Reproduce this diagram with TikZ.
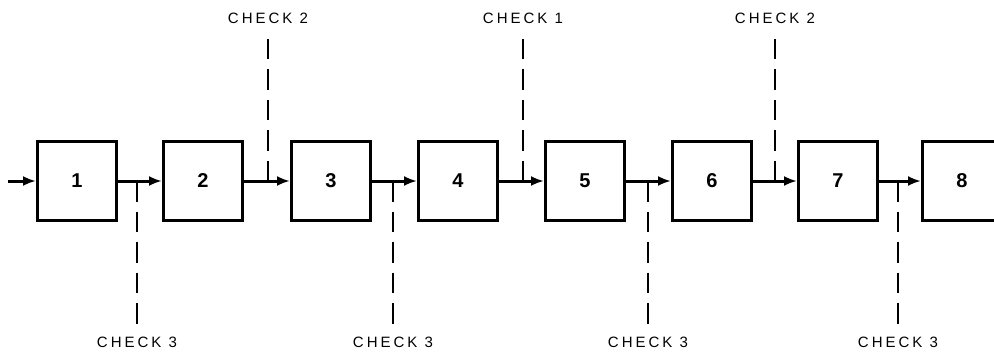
\documentclass[tikz,border=0pt]{standalone}
\usepackage{fontspec}
\setmainfont{Liberation Sans}
\newfontfamily\labelfont[LetterSpace=20]{Liberation Sans}
\usetikzlibrary{arrows.meta}
\begin{document}
\begin{tikzpicture}[x=1pt,y=-1pt,
  blk/.style={draw,line width=3pt,minimum width=79pt,minimum height=79pt,inner sep=0pt,font=\fontsize{20}{20}\selectfont\bfseries},
  flow/.style={line width=3pt,-{Latex[length=13pt,width=10pt]}},
  chk/.style={line width=2.6pt,dash pattern=on 20.5pt off 10pt},
  lab/.style={inner sep=0pt,font=\fontsize{15}{15}\selectfont\labelfont}]
\clip (0,0) rectangle (994,356);
\fill[white] (0,0) rectangle (994,356);
\node[blk] (b1) at (77,181) {1};
\node[blk] (b2) at (203,181) {2};
\node[blk] (b3) at (331,181) {3};
\node[blk] (b4) at (458,181) {4};
\node[blk] (b5) at (585,181) {5};
\node[blk] (b6) at (712,181) {6};
\node[blk] (b7) at (838,181) {7};
\node[blk] (b8) at (962,181) {8};
\coordinate (in) at (8,181);
\draw[flow] (in) -- (b1.west);
\draw[flow] (b1.east) -- (b2.west);
\draw[flow] (b2.east) -- (b3.west);
\draw[flow] (b3.east) -- (b4.west);
\draw[flow] (b4.east) -- (b5.west);
\draw[flow] (b5.east) -- (b6.west);
\draw[flow] (b6.east) -- (b7.west);
\draw[flow] (b7.east) -- (b8.west);
% junctions
\coordinate (j1) at (137,181);
\coordinate (j2) at (268,181);
\coordinate (j3) at (393,181);
\coordinate (j4) at (523,181);
\coordinate (j5) at (648,181);
\coordinate (j6) at (775,181);
\coordinate (j7) at (898,181);
% labels
\node[lab] (l1) at (137,342) {CHECK 3};
\node[lab] (l2) at (268,18) {CHECK 2};
\node[lab] (l3) at (393,342) {CHECK 3};
\node[lab] (l4) at (523,18) {CHECK 1};
\node[lab] (l5) at (648,342) {CHECK 3};
\node[lab] (l6) at (775,18) {CHECK 2};
\node[lab] (l7) at (898,342) {CHECK 3};
\draw[chk] (j1) -- ([yshift=12.5pt]l1.north);
\draw[chk] (j2) -- ([yshift=-13.5pt]l2.south);
\draw[chk] (j3) -- ([yshift=12.5pt]l3.north);
\draw[chk] (j4) -- ([yshift=-13.5pt]l4.south);
\draw[chk] (j5) -- ([yshift=12.5pt]l5.north);
\draw[chk] (j6) -- ([yshift=-13.5pt]l6.south);
\draw[chk] (j7) -- ([yshift=12.5pt]l7.north);
\end{tikzpicture}
\end{document}
